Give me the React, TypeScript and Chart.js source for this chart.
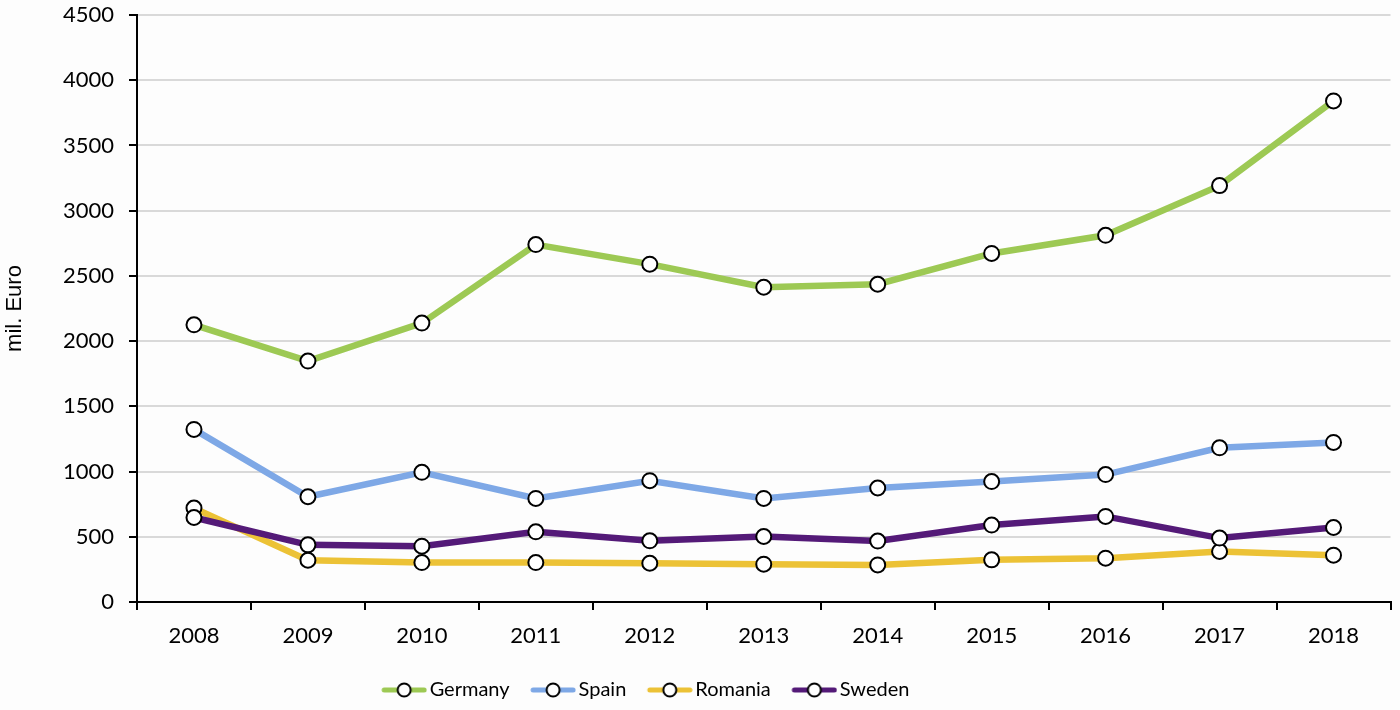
import React, { useEffect, useRef } from "react";
import { Chart, registerables } from "chart.js";

Chart.register(...registerables);

const years = ["2008", "2009", "2010", "2011", "2012", "2013", "2014", "2015", "2016", "2017", "2018"];
const germany = [2125, 1847, 2138, 2740, 2590, 2413, 2436, 2672, 2811, 3192, 3841];
const spain = [1323, 807, 994, 794, 930, 794, 874, 923, 977, 1182, 1223];
const romania = [720, 320, 302, 302, 297, 290, 284, 323, 336, 387, 359];
const sweden = [648, 438, 428, 538, 469, 502, 467, 590, 656, 490, 571];
const seriesNames = ["Germany", "Spain", "Romania", "Sweden"];
const seriesColors = ["#9DC954", "#7EA8E6", "#ECC236", "#541A78"];

const FONT = "Lato, 'Open Sans', sans-serif";

function makeLegendSymbol(color: string): HTMLCanvasElement {
  const c = document.createElement("canvas");
  c.width = 56;
  c.height = 20;
  const ctx = c.getContext("2d")!;
  const x0 = 10;
  ctx.strokeStyle = color;
  ctx.lineWidth = 5;
  ctx.lineCap = "round";
  ctx.beginPath();
  ctx.moveTo(x0 + 3, 10);
  ctx.lineTo(x0 + 43, 10);
  ctx.stroke();
  ctx.beginPath();
  ctx.arc(x0 + 23, 10, 6.5, 0, Math.PI * 2);
  ctx.fillStyle = "#ffffff";
  ctx.fill();
  ctx.lineWidth = 2;
  ctx.strokeStyle = "#000000";
  ctx.stroke();
  return c;
}

export default function App() {
  const ref = useRef<HTMLCanvasElement | null>(null);

  useEffect(() => {
    if (!ref.current) return;
    const all = [germany, spain, romania, sweden];
    const symbols = seriesColors.map((c) => makeLegendSymbol(c));
    const datasets = all.map((d, i) => ({
      label: seriesNames[i],
      data: d,
      borderColor: seriesColors[i],
      backgroundColor: seriesColors[i],
      borderWidth: 6.5,
      pointRadius: 7.5,
      pointHoverRadius: 7.5,
      pointBorderWidth: 2,
      pointBorderColor: "#000000",
      pointBackgroundColor: "#ffffff",
      tension: 0,
      order: 3 - i,
    }));

    const legendShift = {
      id: "legendShift",
      beforeDraw(chart: any) {
        if (chart.legend) {
          chart.legend.left = 0;
          chart.legend.right = chart.width - 112;
        }
      },
    };

    const chart = new Chart(ref.current, {
      type: "line",
      data: { labels: years, datasets },
      plugins: [legendShift],
      options: {
        animation: false,
        responsive: false,
        maintainAspectRatio: false,
        layout: { padding: { top: 15, right: 8, left: 0, bottom: 0 } },
        plugins: {
          tooltip: { enabled: false },
          legend: {
            position: "bottom",
            labels: {
              usePointStyle: true,
              pointStyleWidth: 41,
              padding: 18,
              color: "#000000",
              font: { family: FONT, size: 20 },
              generateLabels: () =>
                seriesNames.map((n, i) => ({
                  text: n,
                  pointStyle: symbols[i] as any,
                  fillStyle: seriesColors[i],
                  strokeStyle: seriesColors[i],
                  lineWidth: 0,
                  hidden: false,
                  datasetIndex: i,
                  fontColor: "#000000",
                })),
            },
          },
        },
        scales: {
          x: {
            offset: true,
            afterFit: (s: any) => {
              s.height = 60;
            },
            grid: {
              offset: true,
              drawOnChartArea: false,
              drawTicks: true,
              tickLength: 8,
              color: "#000000",
              lineWidth: 2,
            },
            border: { display: true, color: "#000000", width: 2 },
            ticks: {
              color: "#000000",
              padding: 13,
              maxRotation: 0,
              font: { family: FONT, size: 22 },
            },
          },
          y: {
            min: 0,
            max: 4500,
            afterFit: (s: any) => {
              s.width = 137;
              s.paddingTop = 0;
              s.paddingBottom = 0;
            },
            grid: {
              color: "#d9d9d9",
              lineWidth: 2,
              drawTicks: true,
              tickLength: 8,
              tickColor: "#000000",
              tickWidth: 2,
            },
            border: { display: true, color: "#000000", width: 2 },
            ticks: {
              stepSize: 500,
              color: "#000000",
              padding: 15,
              font: { family: FONT, size: 22 },
              callback: (v: any) => String(v),
            },
            title: {
              display: true,
              text: "mil. Euro",
              color: "#000000",
              font: { family: "'Liberation Sans', Arial, sans-serif", size: 22 },
              padding: { top: 2, bottom: 0 },
            },
          },
        },
      },
    });
    return () => chart.destroy();
  }, []);

  return (
    <div style={{ position: "fixed", left: 0, top: 0, width: 1400, height: 710, background: "#fdfdfd" }}>
      <canvas ref={ref} width={1400} height={710} style={{ width: 1400, height: 710, display: "block" }} />
    </div>
  );
}
